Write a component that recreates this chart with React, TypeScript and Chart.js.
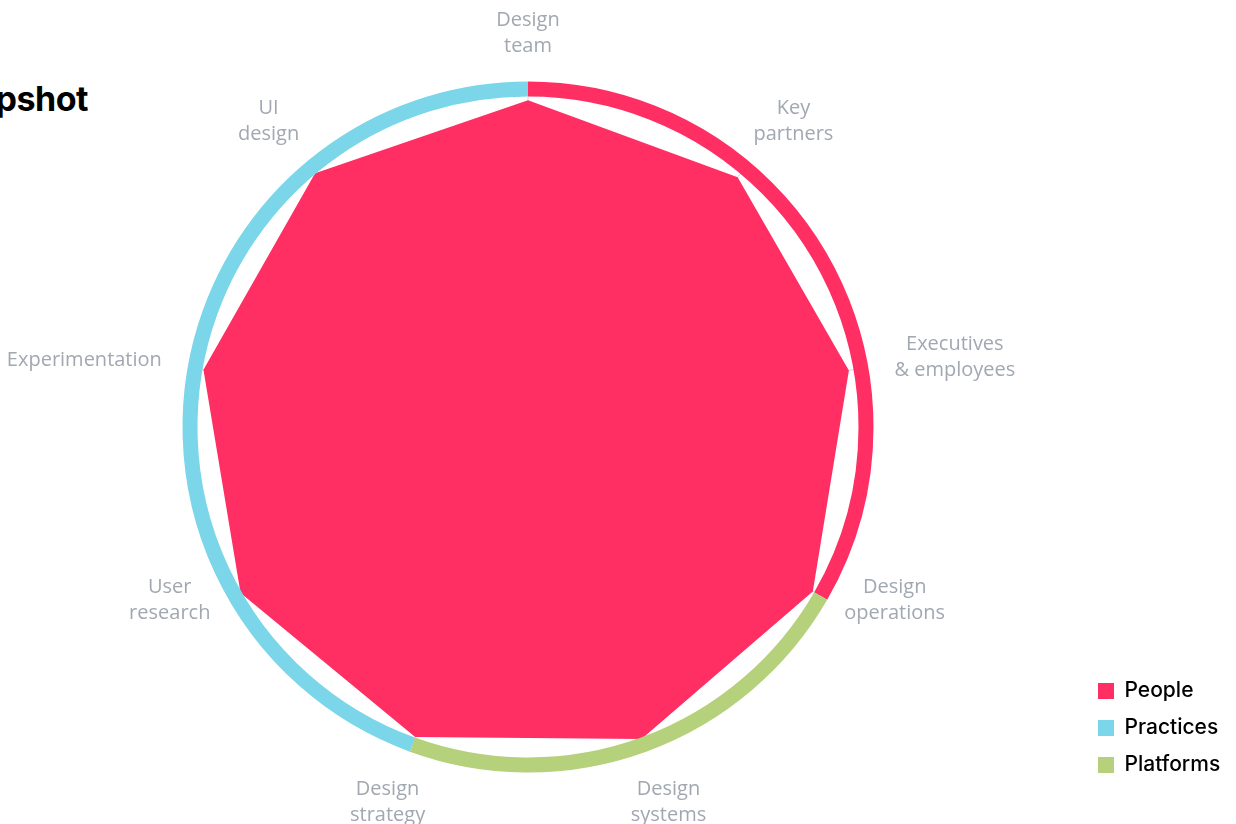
import React, { useEffect, useRef } from 'react';
import { Chart, registerables } from 'chart.js';

Chart.register(...registerables);

// ---- data ----
const axisLabels: string[][] = [
  ['Design', 'team'],
  ['Key', 'partners'],
  ['Executives', '& employees'],
  ['Design', 'operations'],
  ['Design', 'systems'],
  ['Design', 'strategy'],
  ['User', 'research'],
  ['Experimentation'],
  ['UI', 'design'],
];
const scores: number[] = [96.7, 96.5, 96.4, 97.3, 98.2, 97.6, 98.2, 97.5, 98.0];
const axisGroups: string[] = [
  'People', 'People', 'People',
  'Platforms', 'Platforms',
  'Practices', 'Practices', 'Practices', 'Practices',
];
const legendNames: string[] = ['People', 'Practices', 'Platforms'];
const legendColors: string[] = ['#ff2e63', '#7ad6e8', '#b5d17b'];
const titleText = 'Snapshot';

const colorOf = (g: string) => legendColors[legendNames.indexOf(g)];

const LEGEND_FONT_SIZE = 21;
const LEGEND_FONT = { family: 'Inter', size: LEGEND_FONT_SIZE, weight: '500' };
const LEGEND_BOX = 16;
const LEGEND_PAD = 16;

const ringPlugin = {
  id: 'groupRing',
  afterDatasetsDraw(chart: any) {
    const scale = chart.scales.r;
    const n = chart.data.labels.length;
    const ctx = chart.ctx;
    const starts: number[] = [];
    for (let i = 0; i < n; i++) {
      if (axisGroups[i] !== axisGroups[(i - 1 + n) % n]) starts.push(i);
    }
    ctx.save();
    ctx.lineWidth = 15;
    ctx.lineCap = 'butt';
    starts.forEach((s, k) => {
      const e = starts[(k + 1) % starts.length];
      const a0 = scale.getIndexAngle(s) - Math.PI / 2;
      let a1 = scale.getIndexAngle(e) - Math.PI / 2;
      while (a1 <= a0) a1 += Math.PI * 2;
      ctx.beginPath();
      ctx.strokeStyle = colorOf(axisGroups[s]);
      ctx.arc(scale.xCenter, scale.yCenter, scale.drawingArea, a0, a1);
      ctx.stroke();
    });
    ctx.restore();
  },
};

const labelPlugin = {
  id: 'axisTextLabels',
  afterDraw(chart: any) {
    const scale = chart.scales.r;
    const ctx = chart.ctx;
    const lh = 26;
    ctx.save();
    ctx.font = '400 20px "Open Sans"';
    ctx.fillStyle = '#a1a8b1';
    ctx.textAlign = 'center';
    ctx.textBaseline = 'middle';
    (chart.data.labels as string[][]).forEach((lines, i) => {
      const p = scale.getPointPosition(i, scale.drawingArea + 35);
      const th = scale.getIndexAngle(i);
      const s = Math.sin(th);
      const c = Math.cos(th);
      const w = Math.max(...lines.map((l) => ctx.measureText(l).width));
      const h = lines.length * lh;
      const below = c < -0.6;
      const f = below ? Math.abs(c) : -Math.min(Math.abs(c), 0.8);
      const cx = p.x + (s * w) / 2;
      const cy = p.y + (f * h) / 2;
      lines.forEach((l, k) => ctx.fillText(l, cx, cy - h / 2 + lh * (k + 0.5)));
    });
    ctx.restore();
  },
};

export default function App() {
  const canvasRef = useRef<HTMLCanvasElement | null>(null);

  useEffect(() => {
    if (!canvasRef.current) return;
    // measure legend width so that the legend column starts where wanted
    const mctx = document.createElement('canvas').getContext('2d') as CanvasRenderingContext2D;
    mctx.font = `normal 500 ${LEGEND_FONT_SIZE}px Inter`;
    const textW = Math.max(...legendNames.map((t) => mctx.measureText(t).width));
    const legendW = LEGEND_PAD + LEGEND_BOX + LEGEND_FONT_SIZE / 2 + textW + 10;
    const canvasW = 1300;
    const legendLeft = 1142; // canvas coordinate of legend's left edge
    const padRight = canvasW - legendLeft - legendW;

    const chart = new Chart(canvasRef.current, {
      type: 'radar',
      data: {
        labels: axisLabels,
        datasets: [
          {
            label: 'Score',
            data: scores,
            backgroundColor: legendColors[0],
            borderWidth: 0,
            pointRadius: 0,
            pointHoverRadius: 0,
            fill: true,
          },
        ],
      },
      options: {
        responsive: true,
        maintainAspectRatio: false,
        animation: false,
        layout: { padding: { top: 89, left: 34, right: padRight, bottom: 32.5 } },
        scales: {
          r: {
            min: 0,
            max: 100,
            ticks: { display: false },
            grid: { display: false },
            angleLines: { display: true, color: '#d3d6da', lineWidth: 1 },
            pointLabels: { display: false },
          },
        },
        plugins: {
          tooltip: { enabled: false },
          title: {
            display: true,
            position: 'bottom',
            text: ' ',
            font: { size: 12, lineHeight: 1 },
            padding: { top: 14.5, bottom: 0 },
          },
          legend: {
            display: true,
            position: 'right',
            align: 'end',
            fullSize: true,
            onClick: () => {},
            labels: {
              boxWidth: LEGEND_BOX,
              boxHeight: LEGEND_BOX,
              padding: LEGEND_PAD,
              color: '#161616',
              font: LEGEND_FONT,
              generateLabels: () =>
                legendNames.map((t, i) => ({
                  text: t,
                  fillStyle: legendColors[i],
                  strokeStyle: legendColors[i],
                  lineWidth: 0,
                  hidden: false,
                  index: i,
                })),
            },
          },
        },
      },
      plugins: [ringPlugin, labelPlugin],
    } as any);
    return () => chart.destroy();
  }, []);

  return (
    <div
      style={{
        position: 'fixed',
        left: 0,
        top: 0,
        width: 1236,
        height: 824,
        overflow: 'hidden',
        background: '#ffffff',
      }}
    >
      <div
        style={{
          position: 'absolute',
          right: 1236 - 88,
          top: 82,
          whiteSpace: 'nowrap',
          fontFamily: 'Inter, sans-serif',
          fontWeight: 700,
          fontSize: 34,
          lineHeight: '34px',
          color: '#000000',
          letterSpacing: '-0.5px',
        }}
      >
        {titleText}
      </div>
      <div style={{ position: 'absolute', left: -60, top: 0, width: 1300, height: 824 }}>
        <canvas ref={canvasRef} />
      </div>
    </div>
  );
}
